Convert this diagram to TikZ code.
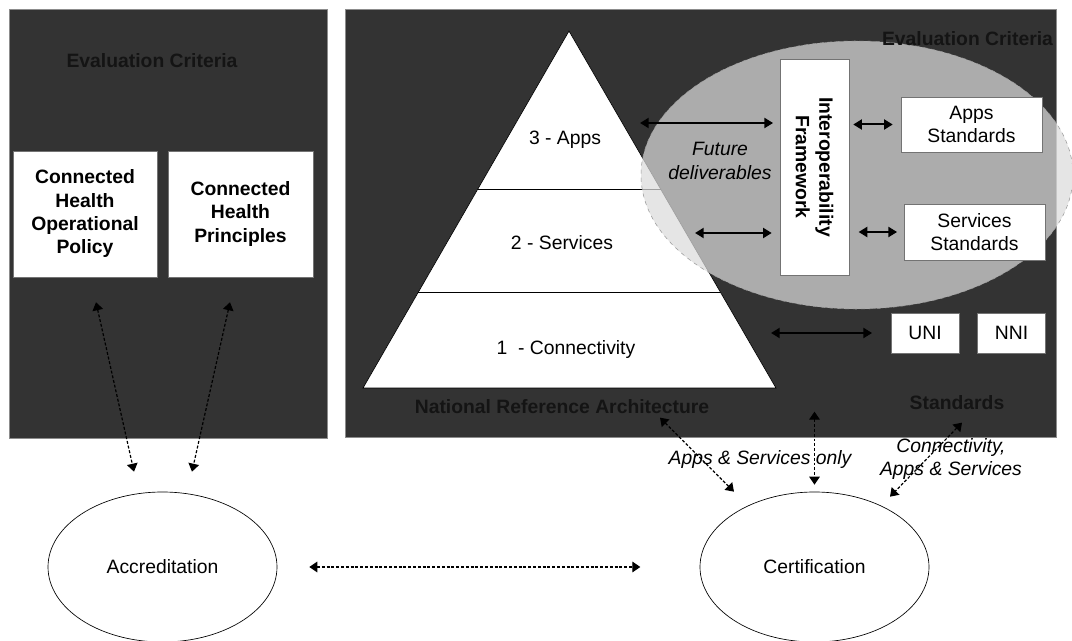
\documentclass[tikz,border=0pt]{standalone}
\usepackage{fontspec}
\setmainfont{Liberation Sans}
\usetikzlibrary{arrows.meta,positioning,calc,shapes.geometric}
\definecolor{panelgray}{HTML}{333333}
\definecolor{hdrtext}{HTML}{141414}
\newcommand\diafont{\fontsize{14.5}{17.5}\selectfont}

\begin{document}
\begin{tikzpicture}[
  x=0.75pt, y=-0.75pt,
  font=\diafont,
  panel/.style={draw=black!45, fill=panelgray, line width=0.4pt},
  hdr/.style={font=\diafont\bfseries, text=hdrtext},
  box/.style={draw=black!55, fill=white, align=center, inner sep=2pt},
  bbox/.style={box, font=\diafont\bfseries},
  oval/.style={ellipse, draw, line width=0.5pt, minimum width=171.75pt, minimum height=112.5pt},
  lbl/.style={font=\diafont\itshape, align=center},
  link/.style={{Triangle[length=6pt,width=8pt]}-{Triangle[length=6pt,width=8pt]}, dash pattern=on 2.2pt off 1.4pt, line width=0.9pt},
  dbl/.style={{Triangle[length=6.5pt,width=7.5pt]}-{Triangle[length=6.5pt,width=7.5pt]}, line width=1.5pt}]

\useasboundingbox (0,0) rectangle (1072,641);

% the two dark panels
\draw[panel] (9,9) rectangle (327,438);
\draw[panel] (345,9) rectangle (1056,437);

\node[hdr] (evalL) at (152,61) {Evaluation Criteria};
\node[bbox, minimum width=108pt, minimum height=94.5pt] (policy) at (85,214) {Connected\\Health\\Operational\\Policy};
\node[bbox, minimum width=108.75pt, minimum height=94.5pt] (princ) at (240.5,214) {Connected\\Health\\Principles};

% pyramid with its three layers
\coordinate (apex) at (569,31);
\coordinate (bl) at (363,388);
\coordinate (br) at (776,388);
\draw[fill=white, line width=0.5pt] (apex) -- (br) -- (bl) -- cycle;
\draw[line width=0.5pt] ($(apex)!0.4426!(bl)$) -- ($(apex)!0.4426!(br)$);
\draw[line width=0.5pt] ($(apex)!0.7311!(bl)$) -- ($(apex)!0.7311!(br)$);
\node (apps) at (565,140) {3 - Apps};
\node (serv) at (562,243) {2 - Services};
\node (conn) at (566,350) {1\ \ - Connectivity};
\node[hdr] (nra) at (562,407) {National Reference Architecture};

% future deliverables area
\node[ellipse, draw=black!40, dashed, fill=black!14, fill opacity=0.72, minimum width=324pt, minimum height=201pt] (fut) at (857,175) {};
\node[hdr] (evalR) at (967.5,39) {Evaluation Criteria};
\node[lbl, text depth=0pt] (futlbl) at (720,161) {Future\\deliverables};

\node[bbox, rotate=-90, minimum width=162pt, minimum height=51.75pt] (intfw) at (814.5,167) {Interoperability\\Framework};
\node[box, minimum width=105.75pt, minimum height=41.25pt] (appstd) at (971.5,124.5) {Apps\\Standards};
\node[box, minimum width=105.75pt, minimum height=42pt] (servstd) at (974.5,232) {Services\\Standards};
\node[box, minimum width=51pt, minimum height=30pt] (uni) at (925,333) {UNI};
\node[box, minimum width=51pt, minimum height=30pt, right=13.5pt of uni] (nni) {NNI};
\node[hdr] (std) at (957,403) {Standards};

\coordinate (a3) at (640,123);
\coordinate (a2) at (695,233);
\coordinate (a1) at (771,333);
\draw[dbl, shorten >=5pt] (a3) -- (intfw.south |- a3);
\draw[dbl, shorten >=6pt] (a2) -- (intfw.south |- a2);
\draw[dbl, shorten <=3pt, shorten >=6pt] (intfw.north |- appstd.west) -- (appstd.west);
\draw[dbl, shorten <=7pt, shorten >=5pt] (intfw.north |- servstd.west) -- (servstd.west);
\draw[dbl, shorten >=14pt] (a1) -- (uni.west);

% accreditation and certification
\node[oval] (accr) at (162.5,567) {Accreditation};
\node[oval] (cert) at (814.5,567) {Certification};

\draw[link] ($(policy.south)+(11,25)$) -- ($(accr.north)+(-28.5,-20)$);
\draw[link] ($(princ.south)+(-10.5,25)$) -- ($(accr.north)+(29.5,-20)$);
\draw[link, shorten <=24pt, shorten >=44.5pt] (accr.east) -- (cert.west);
\draw[link] ($(cert.north)+(-154.5,-74)$) -- ($(cert.north)+(-80.5,0)$);
\draw[link] ($(cert.north)+(0,-80)$) -- ($(cert.north)+(0,-7)$);
\draw[link] ($(cert.north)+(147.5,-69)$) -- ($(cert.north)+(75.5,5)$);

\node[lbl] (asonly) at (760,460) {Apps \& Services only};
\node[lbl] (cas) at (951,459) {Connectivity,\\Apps \& Services};

\end{tikzpicture}
\end{document}
